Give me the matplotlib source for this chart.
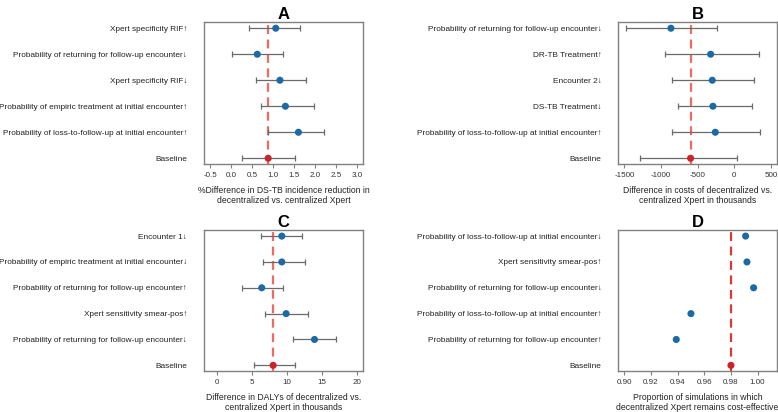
import matplotlib.pyplot as plt

plt.rcParams['font.family'] = ['Liberation Sans', 'DejaVu Sans']

# Panel A: % difference in DS-TB incidence reduction
labels_a = ['Xpert specificity RIF\u2191',
            'Probability of returning for follow-up encounter\u2193',
            'Xpert specificity RIF\u2193',
            'Probability of empiric treatment at initial encounter\u2191',
            'Probability of loss-to-follow-up at initial encounter\u2191',
            'Baseline']
mid_a = [1.06, 0.62, 1.16, 1.29, 1.60, 0.88]
low_a = [0.43, 0.02, 0.60, 0.71, 0.88, 0.25]
high_a = [1.64, 1.23, 1.78, 1.98, 2.21, 1.52]
ticks_a = [-0.5, 0.0, 0.5, 1.0, 1.5, 2.0, 2.5, 3.0]

# Panel B: difference in costs (thousands)
labels_b = ['Probability of returning for follow-up encounter\u2193',
            'DR-TB Treatment\u2191',
            'Encounter 2\u2193',
            'DS-TB Treatment\u2193',
            'Probability of loss-to-follow-up at initial encounter\u2191',
            'Baseline']
mid_b = [-866, -323, -301, -292, -260, -597]
low_b = [-1476, -952, -852, -774, -847, -1294]
high_b = [-232, 337, 264, 246, 355, 32]
ticks_b = [-1500, -1000, -500, 0, 500]

# Panel C: difference in DALYs (thousands)
labels_c = ['Encounter 1\u2193',
            'Probability of empiric treatment at initial encounter\u2193',
            'Probability of returning for follow-up encounter\u2191',
            'Xpert sensitivity smear-pos\u2191',
            'Probability of returning for follow-up encounter\u2193',
            'Baseline']
mid_c = [9.29, 9.29, 6.43, 9.90, 13.95, 8.05]
low_c = [6.29, 6.67, 3.57, 6.95, 10.86, 5.38]
high_c = [12.14, 12.57, 9.52, 12.95, 16.95, 11.10]
ticks_c = [0, 5, 10, 15, 20]

# Panel D: proportion of simulations cost-effective
labels_d = ['Probability of loss-to-follow-up at initial encounter\u2193',
            'Xpert sensitivity smear-pos\u2191',
            'Probability of returning for follow-up encounter\u2193',
            'Probability of loss-to-follow-up at initial encounter\u2191',
            'Probability of returning for follow-up encounter\u2191',
            'Baseline']
mid_d = [0.991, 0.992, 0.997, 0.950, 0.939, 0.980]
ticks_d = [0.90, 0.92, 0.94, 0.96, 0.98, 1.00]

BLUE = '#1b6aa3'
RED = '#cc2229'
GRAY = '#808080'


def draw_panel(rect, title, labels, mid, ticks, xlim, xlabel, fmt,
               low=None, high=None, vcolor='#ee6b5f'):
    ax = fig.add_axes(rect)
    n = len(labels)
    ys = [n - 1 - i for i in range(n)]
    base = mid[-1]
    ax.axvline(base, color=vcolor, ls=(0, (4, 2.5)), lw=1.6, zorder=1)
    if low is not None:
        for y, m, lo, hi in zip(ys, mid, low, high):
            ax.errorbar(m, y, xerr=[[m - lo], [hi - m]], fmt='none',
                        ecolor='#6a6a6a', elinewidth=0.9, capsize=2.5,
                        capthick=0.9, zorder=2)
    colors = [BLUE] * (n - 1) + [RED]
    ax.scatter(mid, ys, s=26, c=colors, zorder=3, linewidths=0)
    ax.set_yticks(ys)
    ax.set_yticklabels(labels, fontsize=5.95, color='#222222')
    ax.tick_params(axis='y', length=0, pad=12)
    ax.set_xticks(ticks)
    ax.set_xticklabels([fmt.format(t) for t in ticks], fontsize=5.8,
                       color='#333333')
    ax.tick_params(axis='x', length=3, width=0.8, color=GRAY, pad=3)
    ax.set_xlim(*xlim)
    ax.set_ylim(-0.22, n - 1 + 0.24)
    for s in ax.spines.values():
        s.set_color(GRAY)
        s.set_linewidth(1.0)
    ax.set_xlabel(xlabel, fontsize=6.2, color='#222222', labelpad=5,
                  linespacing=1.15)
    ax.set_title(title, fontsize=12, fontweight='bold', pad=2)
    return ax


fig = plt.figure(figsize=(7.78, 4.12), dpi=100)

draw_panel([0.2622, 0.602, 0.2044, 0.3446], 'A', labels_a, mid_a, ticks_a,
           (-0.65, 3.14),
           '%Difference in DS-TB incidence reduction in\ndecentralized vs. centralized Xpert',
           '{:.1f}', low_a, high_a)
draw_panel([0.7947, 0.602, 0.2036, 0.3446], 'B', labels_b, mid_b, ticks_b,
           (-1585, 579),
           'Difference in costs of decentralized vs.\ncentralized Xpert in thousands',
           '{:.0f}', low_b, high_b)
draw_panel([0.2622, 0.0995, 0.2044, 0.3425], 'C', labels_c, mid_c, ticks_c,
           (-1.8, 20.86),
           'Difference in DALYs of decentralized vs.\ncentralized Xpert in thousands',
           '{:.0f}', low_c, high_c)
draw_panel([0.7947, 0.0995, 0.2036, 0.3425], 'D', labels_d, mid_d, ticks_d,
           (0.8955, 1.0143),
           'Proportion of simulations in which\ndecentralized Xpert remains cost-effective',
           '{:.2f}', vcolor='#d83a35')

fig.savefig('out.png', dpi=100)
